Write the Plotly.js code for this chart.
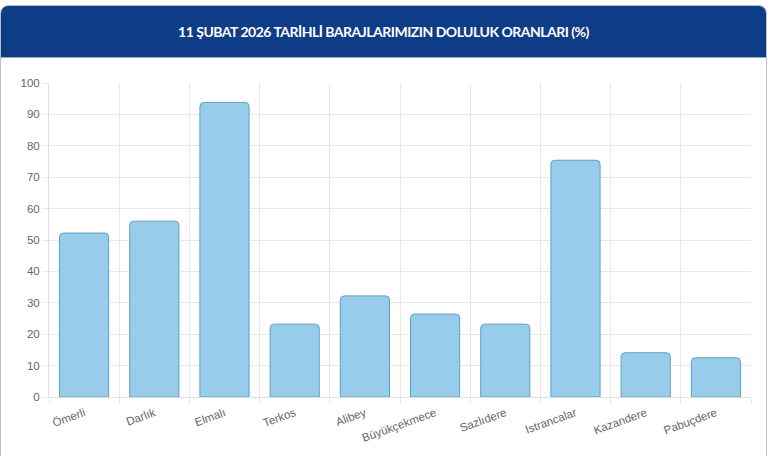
<!DOCTYPE html>
<html>
<head>
<meta charset="utf-8">
<script src="https://cdn.plot.ly/plotly-3.0.1.min.js"></script>
<style>
  body { margin: 0; background: #fff; }
  .card {
    position: absolute; left: 0; top: 5px; width: 765px; height: 470px;
    border: 1px solid #b9c0c6; border-radius: 8px 8px 0 0; overflow: hidden;
    background: #fff;
  }
  .head {
    height: 51px; background: #0f3c87; color: #fff;
    font-family: Lato, "Open Sans", sans-serif; font-weight: 700; font-size: 14px;
    letter-spacing: -0.5px;
    text-align: center; line-height: 51px; border-bottom: 1px solid #9aa6b2;
  }
  #myDiv { width: 765px; height: 399px; }
</style>
</head>
<body>
<div class="card">
  <div class="head">11 ŞUBAT 2026 TARİHLİ BARAJLARIMIZIN DOLULUK ORANLARI (%)</div>
  <div id="myDiv"></div>
</div>
<script>
// baraj isimleri ve doluluk yüzdeleri
var barajlar = ['Ömerli', 'Darlık', 'Elmalı', 'Terkos', 'Alibey', 'Büyükçekmece',
  'Sazlıdere', 'Istrancalar', 'Kazandere', 'Pabuçdere'];
var doluluk = [52.2, 56.0, 93.8, 23.2, 32.2, 26.4, 23.2, 75.4, 14.1, 12.5];
var yTicks = [0, 10, 20, 30, 40, 50, 60, 70, 80, 90, 100];

var trace1 = {
  x: barajlar,
  y: doluluk,
  type: 'bar',
  marker: {
    color: '#97cdeb',
    line: { color: '#5e9fc3', width: 1 },
    cornerradius: 4
  },
  hoverinfo: 'x+y'
};

var layout = {
  margin: { l: 48, r: 15, t: 25, b: 60 },
  paper_bgcolor: '#fff',
  plot_bgcolor: '#fff',
  bargap: 0.3,
  showlegend: false,
  font: { family: '"Liberation Sans", Arial, sans-serif', size: 11.5, color: '#666' },
  xaxis: {
    type: 'category',
    tickson: 'boundaries',
    showgrid: true,
    gridcolor: '#e8e8e8',
    ticks: 'outside',
    ticklen: 6,
    tickcolor: '#e8e8e8',
    tickangle: -20,
    ticklabelstandoff: 4,
    showline: true,
    linecolor: '#e0e0e0',
    fixedrange: true
  },
  yaxis: {
    range: [0, 100],
    tickvals: yTicks,
    showgrid: true,
    gridcolor: '#e8e8e8',
    zeroline: true,
    zerolinecolor: '#dcdcdc',
    ticks: 'outside',
    ticklen: 6,
    tickcolor: '#e8e8e8',
    showline: true,
    linecolor: '#e0e0e0',
    fixedrange: true
  }
};

Plotly.newPlot('myDiv', [trace1], layout, { displayModeBar: false, responsive: false });
</script>
</body>
</html>
